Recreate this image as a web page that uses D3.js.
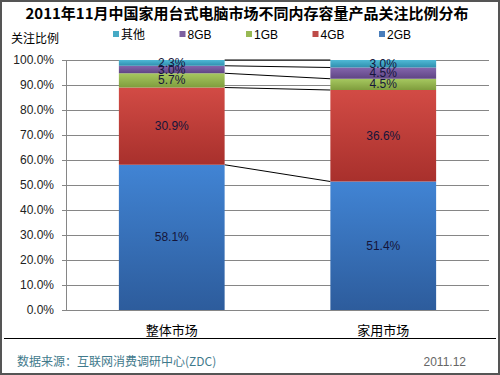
<!DOCTYPE html>
<html>
<head>
<meta charset="utf-8">
<script src="https://cdn.jsdelivr.net/npm/d3@7"></script>
<style>
  body { margin: 0; background: #fff; }
  svg text { font-family: "Liberation Sans", "Noto Sans CJK SC", sans-serif; }
</style>
</head>
<body>
<div id="chart"></div>
<script>
// data
var categories = ["整体市场", "家用市场"];
var seriesNames = ["2GB", "4GB", "1GB", "8GB", "其他"];
var values2GB = [58.1, 51.4];
var values4GB = [30.9, 36.6];
var values1GB = [5.7, 4.5];
var values8GB = [3.0, 4.5];
var valuesOther = [2.3, 3.0];
var yTicks = [0, 10, 20, 30, 40, 50, 60, 70, 80, 90, 100];
var legendOrder = ["其他", "8GB", "1GB", "4GB", "2GB"];

var colors = {
  "2GB":  ["#4184d4", "#2d5c9c"],
  "4GB":  ["#d24b45", "#a8302c"],
  "1GB":  ["#a6c860", "#7f9d3d"],
  "8GB":  ["#8466ad", "#5f4584"],
  "其他": ["#4fb9d6", "#2f8fae"]
};
var legendColors = {"2GB": "#4a7ebb", "4GB": "#be4b48", "1GB": "#98b954", "8GB": "#7d60a0", "其他": "#46aac5"};

var W = 500, H = 375;
var margin = {top: 60, right: 11, bottom: 65, left: 66},
    width = W - margin.left - margin.right,
    height = H - margin.top - margin.bottom;

var svg = d3.select("#chart").append("svg")
  .attr("width", W).attr("height", H);

// outer border
svg.append("rect").attr("x", 1).attr("y", 1).attr("width", W - 2).attr("height", H - 2)
  .attr("fill", "#fff").attr("stroke", "#555").attr("stroke-width", 2);

var defs = svg.append("defs");
seriesNames.forEach(function(s, i){
  var g = defs.append("linearGradient").attr("id", "grad" + i)
    .attr("x1", 0).attr("y1", 0).attr("x2", 0).attr("y2", 1);
  g.append("stop").attr("offset", "0%").attr("stop-color", colors[s][0]);
  g.append("stop").attr("offset", "100%").attr("stop-color", colors[s][1]);
});

// title
svg.append("text").attr("x", 247).attr("y", 19)
  .attr("text-anchor", "middle")
  .style("font-family", "'Noto Sans CJK SC', sans-serif")
  .style("font-weight", "bold").style("font-size", "15px").attr("fill", "#000")
  .text("2011年11月中国家用台式电脑市场不同内存容量产品关注比例分布");

// y axis title
svg.append("text").attr("x", 11).attr("y", 43)
  .style("font-family", "'Noto Sans CJK SC', sans-serif")
  .style("font-size", "12px").attr("fill", "#000")
  .text("关注比例");

// legend
var legend = svg.append("g");
legendOrder.forEach(function(s, i){
  var lx = 113 + i * 66.5;
  legend.append("rect").attr("x", lx).attr("y", 31).attr("width", 6).attr("height", 6)
    .attr("fill", legendColors[s]);
  legend.append("text").attr("x", lx + 8).attr("y", 39)
    .style("font-family", "'Liberation Sans', 'Noto Sans CJK SC', sans-serif")
    .style("font-size", "12px").attr("fill", "#000").text(s);
});

var g = svg.append("g").attr("transform", "translate(" + margin.left + "," + margin.top + ")");

var x = d3.scaleBand().domain(categories).range([0, width]).paddingInner(0).paddingOuter(0);
var y = d3.scaleLinear().domain([0, 100]).range([height, 0]);

// gridlines
g.selectAll(".grid").data(yTicks).enter().append("line")
  .attr("x1", -4).attr("x2", width)
  .attr("y1", function(d){ return Math.round(y(d)) + 0.5; })
  .attr("y2", function(d){ return Math.round(y(d)) + 0.5; })
  .attr("stroke", "#868686").attr("stroke-width", 1);

// y axis line
g.append("line").attr("x1", 0.5).attr("x2", 0.5).attr("y1", 0).attr("y2", height)
  .attr("stroke", "#868686");

// y tick labels
g.selectAll(".ytl").data(yTicks).enter().append("text")
  .attr("x", -12).attr("y", function(d){ return y(d) + 4; })
  .attr("text-anchor", "end").style("font-size", "12px").attr("fill", "#222")
  .text(function(d){ return d.toFixed(1) + "%"; });

// stack
var rows = categories.map(function(c, i){
  return {cat: c, "2GB": values2GB[i], "4GB": values4GB[i], "1GB": values1GB[i], "8GB": values8GB[i], "其他": valuesOther[i]};
});
var stacked = d3.stack().keys(seriesNames)(rows);

var barW = x.bandwidth() * 0.5;
function barX(cat){ return x(cat) + (x.bandwidth() - barW) / 2; }

// series connector lines
var connectors = [];
stacked.forEach(function(layer){
  connectors.push([layer[0][1], layer[1][1]]);
});
g.selectAll(".conn").data(connectors).enter().append("line")
  .attr("x1", barX(categories[0]) + barW).attr("x2", barX(categories[1]))
  .attr("y1", function(d){ return y(d[0]); })
  .attr("y2", function(d){ return y(d[1]); })
  .attr("stroke", "#000").attr("stroke-width", 1);

var layers = g.selectAll(".layer").data(stacked).enter().append("g")
  .attr("fill", function(d, i){ return "url(#grad" + i + ")"; });

layers.selectAll("rect").data(function(d){ return d; }).enter().append("rect")
  .attr("x", function(d){ return barX(d.data.cat); })
  .attr("width", barW)
  .attr("y", function(d){ return y(d[1]); })
  .attr("height", function(d){ return y(d[0]) - y(d[1]); });

// value labels
stacked.forEach(function(layer){
  g.selectAll(null).data(layer).enter().append("text")
    .attr("x", function(d){ return barX(d.data.cat) + barW / 2; })
    .attr("y", function(d){ return y((d[0] + d[1]) / 2) + 4; })
    .attr("text-anchor", "middle").style("font-size", "12px").attr("fill", "#15153a")
    .text(function(d){ return (d[1] - d[0]).toFixed(1) + "%"; });
});

// category labels
g.selectAll(".xl").data(categories).enter().append("text")
  .attr("x", function(d){ return x(d) + x.bandwidth() / 2; })
  .attr("y", height + 25)
  .attr("text-anchor", "middle")
  .style("font-family", "'Noto Sans CJK SC', sans-serif")
  .style("font-size", "13px").attr("fill", "#000")
  .text(function(d){ return d; });

// footer
svg.append("line").attr("x1", 4).attr("x2", 496).attr("y1", 338.5).attr("y2", 338.5)
  .attr("stroke", "#000").attr("stroke-width", 1);
svg.append("text").attr("x", 17).attr("y", 366)
  .style("font-family", "'Noto Sans CJK SC', sans-serif")
  .style("font-size", "12px").attr("fill", "#3f7a8c")
  .text("数据来源：互联网消费调研中心(ZDC)");
svg.append("text").attr("x", 466).attr("y", 366).attr("text-anchor", "end")
  .style("font-size", "12px").attr("fill", "#666")
  .text("2011.12");
</script>
</body>
</html>
